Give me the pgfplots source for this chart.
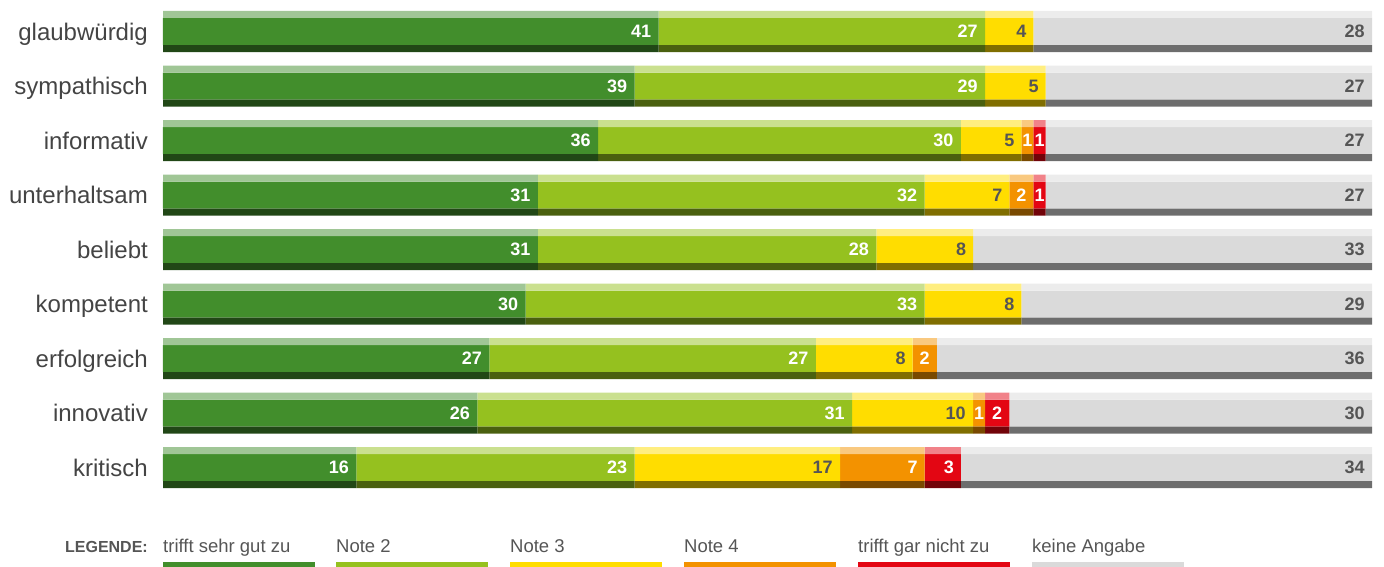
\documentclass[border=0pt]{standalone}
\usepackage{fontspec}
\setmainfont{Liberation Sans}
\usepackage{pgfplots}
\usepackage{pgfplotstable}
\pgfplotsset{compat=1.18}
\definecolor{c1}{HTML}{428E2C}
\definecolor{c2}{HTML}{95C11F}
\definecolor{c3}{HTML}{FFDD00}
\definecolor{c4}{HTML}{F39200}
\definecolor{c5}{HTML}{E30613}
\definecolor{c6}{HTML}{DADADA}
\definecolor{txtgray}{HTML}{555555}
\definecolor{lblgray}{HTML}{444444}
\pgfplotstableread{
y a b c d e f
8 41 27 4 0 0 28
7 39 29 5 0 0 27
6 36 30 5 1 1 27
5 31 32 7 2 1 27
4 31 28 8 0 0 33
3 30 33 8 0 0 29
2 27 27 8 2 0 36
1 26 31 10 1 2 30
0 16 23 17 7 3 34
}\datatable
\pgfplotsset{
  base/.style={at={(163pt,-494.75pt)}, anchor=south west, scale only axis,
    width=1209pt, height=490.5pt, xmin=0, xmax=100, ymin=-0.5, ymax=8.5,
    xbar stacked, clip=false},
  lbl/.style={point meta=x,
    visualization depends on={rawx \as \rawx},
    nodes near coords={\pgfmathtruncatemacro\vv{round(\rawx)}\ifnum\vv>0 \vv\fi},
    every node near coord/.append style={font=\fontsize{18}{18}\selectfont\bfseries,
      text=#1, anchor=center, inner sep=0pt,
      xshift={\rawx*6.045-ifthenelse(\rawx<2.5,\rawx*6.045,ifthenelse(\rawx<9.5,12,17.5))}}},
}
\begin{document}
\begin{tikzpicture}[x=1pt,y=1pt]
\path[use as bounding box] (0,0) rectangle (1384,-567);
% main layer
\begin{axis}[base, bar width=27pt, axis line style={draw=none}, major tick length=0pt,
  xtick=\empty, ytick={0,...,8},
  yticklabels={kritisch,innovativ,erfolgreich,kompetent,beliebt,unterhaltsam,informativ,sympathisch,glaubwürdig},
  yticklabel style={font=\fontsize{24}{24}\selectfont, text=lblgray, inner sep=0pt, anchor=base east, xshift=-15pt, yshift=-8.5pt}]
\addplot[fill=c1, draw=none, lbl=white] table[x=a,y=y]{\datatable};
\addplot[fill=c2, draw=none, lbl=white] table[x=b,y=y]{\datatable};
\addplot[fill=c3, draw=none, lbl=txtgray] table[x=c,y=y]{\datatable};
\addplot[fill=c4, draw=none, lbl=white] table[x=d,y=y]{\datatable};
\addplot[fill=c5, draw=none, lbl=white] table[x=e,y=y]{\datatable};
\addplot[fill=c6, draw=none, lbl=txtgray] table[x=f,y=y]{\datatable};
\end{axis}
% top strip
\begin{axis}[base, hide axis, bar width=7pt, bar shift=17pt]
\addplot[fill=c1!50!white, draw=none] table[x=a,y=y]{\datatable};
\addplot[fill=c2!50!white, draw=none] table[x=b,y=y]{\datatable};
\addplot[fill=c3!50!white, draw=none] table[x=c,y=y]{\datatable};
\addplot[fill=c4!50!white, draw=none] table[x=d,y=y]{\datatable};
\addplot[fill=c5!50!white, draw=none] table[x=e,y=y]{\datatable};
\addplot[fill=c6!50!white, draw=none] table[x=f,y=y]{\datatable};
\end{axis}
% bottom strip
\begin{axis}[base, hide axis, bar width=7pt, bar shift=-17pt]
\addplot[fill=c1!50!black, draw=none] table[x=a,y=y]{\datatable};
\addplot[fill=c2!50!black, draw=none] table[x=b,y=y]{\datatable};
\addplot[fill=c3!50!black, draw=none] table[x=c,y=y]{\datatable};
\addplot[fill=c4!50!black, draw=none] table[x=d,y=y]{\datatable};
\addplot[fill=c5!50!black, draw=none] table[x=e,y=y]{\datatable};
\addplot[fill=c6!50!black, draw=none] table[x=f,y=y]{\datatable};
\end{axis}
% legend
\node[anchor=base east, inner sep=0pt, text=txtgray, font=\fontsize{16}{16}\selectfont\bfseries] at (148,-552) {LEGENDE:};
\foreach \xx/\cc/\tt in {163/c1/trifft sehr gut zu, 336/c2/Note 2, 510/c3/Note 3, 684/c4/Note 4, 858/c5/trifft gar nicht zu, 1032/c6/keine Angabe}{
  \node[anchor=base west, inner sep=0pt, text=txtgray, font=\fontsize{18.5}{18.5}\selectfont] at (\xx,-552) {\tt};
  \fill[\cc] (\xx,-562) rectangle ++(152,-5);
}
\end{tikzpicture}
\end{document}
